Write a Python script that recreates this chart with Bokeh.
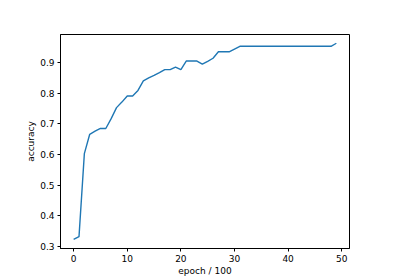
from bokeh.plotting import figure
from bokeh.models import Range1d, FixedTicker
from bokeh.embed import file_html
from bokeh.resources import INLINE

epochs = list(range(50))
accuracy = [0.323, 0.332, 0.603, 0.666, 0.676, 0.685, 0.685, 0.717, 0.753, 0.771,
            0.791, 0.791, 0.809, 0.840, 0.850, 0.858, 0.867, 0.877, 0.877, 0.885,
            0.877, 0.905, 0.905, 0.905, 0.895, 0.904, 0.914, 0.935, 0.935, 0.935,
            0.944, 0.953, 0.953, 0.953, 0.953, 0.953, 0.953, 0.953, 0.953, 0.953,
            0.953, 0.953, 0.953, 0.953, 0.953, 0.953, 0.953, 0.953, 0.953, 0.963]
x_ticks = [0, 10, 20, 30, 40, 50]
y_ticks = [0.3, 0.4, 0.5, 0.6, 0.7, 0.8, 0.9]

p = figure(width=400, height=280, output_backend="svg", toolbar_location=None,
           x_range=Range1d(-2.45, 51.45), y_range=Range1d(0.2935, 0.9915),
           min_border_left=60, min_border_right=51, min_border_top=34, min_border_bottom=32)
p.background_fill_color = "white"
p.border_fill_color = "white"
p.outline_line_color = "black"
p.outline_line_alpha = 1.0
p.outline_line_width = 1
p.grid.visible = False

p.line(epochs, accuracy, line_color="#1f77b4", line_width=1.4)

p.xaxis.ticker = FixedTicker(ticks=x_ticks)
p.yaxis.ticker = FixedTicker(ticks=y_ticks)
p.yaxis.major_label_overrides = {t: f"{t:.1f}" for t in y_ticks}
p.xaxis.axis_label = "epoch / 100"
p.yaxis.axis_label = "accuracy"
for ax in (p.xaxis, p.yaxis):
    ax.major_label_text_font = "DejaVu Sans"
    ax.major_label_text_font_size = "9px"
    ax.major_label_text_color = "black"
    ax.axis_label_text_font = "DejaVu Sans"
    ax.axis_label_text_font_size = "9px"
    ax.axis_label_text_font_style = "normal"
    ax.axis_label_text_color = "black"
    ax.major_tick_in = 0
    ax.major_tick_out = 3
    ax.minor_tick_line_color = None
    ax.axis_line_color = "black"
    ax.major_tick_line_color = "black"
    ax.major_label_standoff = 3
p.xaxis.axis_label_standoff = 1
p.yaxis.axis_label_standoff = 1

open("out.html", "w").write(file_html(p, INLINE))
